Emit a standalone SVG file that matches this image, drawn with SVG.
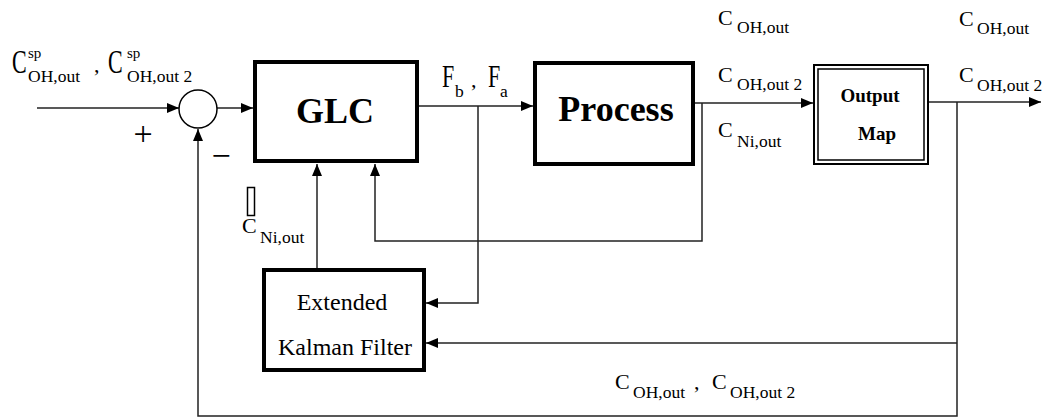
<svg xmlns="http://www.w3.org/2000/svg" width="1043" height="417" viewBox="0 0 1043 417">
<defs>
<marker id="ah" markerUnits="userSpaceOnUse" markerWidth="13" markerHeight="11" refX="12" refY="5" orient="auto">
<path d="M0,0 L12,5 L0,10 z" fill="#000"/>
</marker>
<style>
text{font-family:"Liberation Serif","Times New Roman",serif;fill:#000}
.big{font-size:22px}
.sub{font-size:17.5px}
.sup{font-size:15px}
.bold{font-weight:bold;text-anchor:middle}
.box{fill:#fff;stroke:#000;stroke-width:4}
.wire{fill:none;stroke:#222;stroke-width:1.5}
.arr{marker-end:url(#ah)}
</style>
</defs>
<rect width="1043" height="417" fill="#fff"/>

<g id="connectors">
<path class="wire arr" d="M37 108 H179"/>
<path class="wire arr" d="M217 108 H253"/>
<path class="wire arr" d="M417 106 H533"/>
<path class="wire arr" d="M478 106 V303 H426"/>
<path class="wire arr" d="M693 103 H813"/>
<path class="wire arr" d="M702 103 V241 H375 V164"/>
<path class="wire arr" d="M317 268 V164"/>
<path class="wire arr" d="M929 102 H1041"/>
<path class="wire arr" d="M957 102 V416 H198 V129"/>
<path class="wire arr" d="M957 343 H426"/>
</g>

<g id="sum">
<circle cx="198" cy="109" r="19" fill="#fff" stroke="#000" stroke-width="1.5"/>
<text x="143" y="145" font-size="34" text-anchor="middle">+</text>
<text x="221" y="167" font-size="34" text-anchor="middle">−</text>
</g>

<g id="glc">
<rect class="box" x="255" y="62" width="162" height="99"/>
<text class="bold" x="335" y="123" font-size="36">GLC</text>
</g>

<g id="process">
<rect class="box" x="535" y="63" width="158" height="101"/>
<text class="bold" x="616" y="121" font-size="36">Process</text>
</g>

<g id="outputmap">
<rect x="814" y="65" width="114" height="99" fill="#fff" stroke="#000" stroke-width="2"/>
<rect x="818" y="69" width="106" height="91" fill="none" stroke="#000" stroke-width="1.5"/>
<text class="bold" x="870" y="102" font-size="19">Output</text>
<text class="bold" x="877" y="140" font-size="19">Map</text>
</g>

<g id="ekf">
<rect class="box" x="264" y="270" width="160" height="100"/>
<text x="342" y="310" font-size="24" text-anchor="middle">Extended</text>
<text x="345" y="355" font-size="24" text-anchor="middle">Kalman Filter</text>
</g>

<g id="labels">
<!-- setpoints -->
<text class="big" transform="translate(12,73) scale(1,1.55)">C</text>
<text class="sup" x="28" y="58">sp</text>
<text class="sub" x="28" y="82">OH,out</text>
<text class="big" x="94" y="72">,</text>
<text class="big" transform="translate(108,73) scale(1,1.55)">C</text>
<text class="sup" x="127" y="58">sp</text>
<text class="sub" x="127" y="82">OH,out 2</text>

<!-- Fb, Fa -->
<text class="big" transform="translate(442,87) scale(1,1.4)">F</text>
<text class="sub" x="455" y="97">b</text>
<text class="big" x="471" y="87">,</text>
<text class="big" transform="translate(488,87) scale(1,1.4)">F</text>
<text class="sub" x="500" y="97">a</text>

<!-- process outputs -->
<text class="big" x="718" y="25">C</text>
<text class="sub" x="737" y="33">OH,out</text>
<text class="big" x="718" y="82">C</text>
<text class="sub" x="737" y="90">OH,out 2</text>
<text class="big" x="718" y="137">C</text>
<text class="sub" x="737" y="147">Ni,out</text>

<!-- outputs -->
<text class="big" x="959" y="26">C</text>
<text class="sub" x="977" y="34">OH,out</text>
<text class="big" x="959" y="82">C</text>
<text class="sub" x="977" y="91">OH,out 2</text>

<!-- estimated Ni -->
<rect x="247.5" y="187.5" width="7" height="28" fill="none" stroke="#000" stroke-width="1.5"/>
<text class="big" x="242" y="233">C</text>
<text class="sub" x="260" y="243">Ni,out</text>

<!-- bottom -->
<text class="big" x="615" y="389">C</text>
<text class="sub" x="633" y="398">OH,out</text>
<text class="big" x="694" y="389">,</text>
<text class="big" x="712" y="389">C</text>
<text class="sub" x="730" y="398">OH,out 2</text>
</g>
</svg>
